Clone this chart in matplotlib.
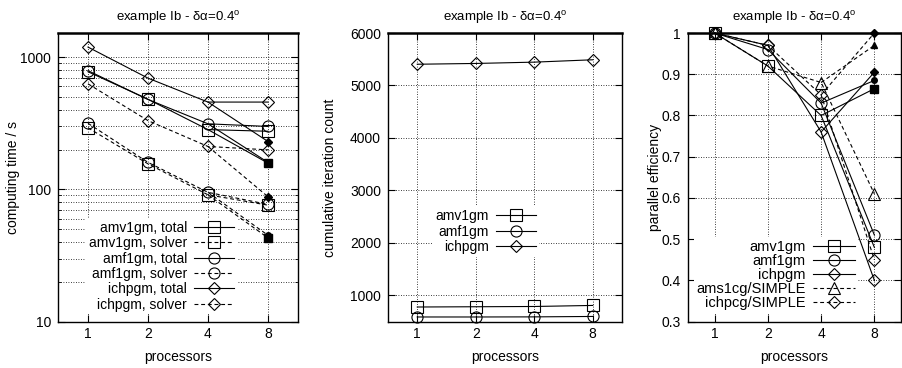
import numpy as np
import matplotlib.pyplot as plt
from matplotlib.ticker import LogLocator, NullFormatter, FixedLocator

plt.rcParams['font.family'] = ['Liberation Sans', 'DejaVu Sans']
plt.rcParams['font.size'] = 10
plt.rcParams['mathtext.fontset'] = 'custom'
plt.rcParams['mathtext.rm'] = 'Liberation Sans'

procs = [1, 2, 4, 8]
xpos = np.arange(len(procs))

# computing time / s  (*_b is the second run on 8 processors)
amv1gm_total = [775, 480, 283, 275]
amv1gm_total_b = 158
amv1gm_solver = [292, 156, 91, 76]
amv1gm_solver_b = 43
amf1gm_total = [790, 478, 313, 299]
amf1gm_total_b = 160
amf1gm_solver = [316, 160, 95, 77]
amf1gm_solver_b = 45
ichpgm_total = [1190, 693, 457, 457]
ichpgm_total_b = 230
ichpgm_solver = [628, 331, 211, 199]
ichpgm_solver_b = 88

# cumulative iteration count
amv1gm_iter = [780, 785, 790, 810]
amf1gm_iter = [590, 590, 592, 600]
ichpgm_iter = [5405, 5420, 5445, 5490]

# parallel efficiency
amv1gm_eff = [1.0, 0.92, 0.80, 0.48]
amv1gm_eff_b = 0.865
amf1gm_eff = [1.0, 0.96, 0.83, 0.51]
amf1gm_eff_b = 0.885
ichpgm_eff = [1.0, 0.97, 0.76, 0.40]
ichpgm_eff_b = 0.905
ams1cg_eff = [1.0, 0.92, 0.88, 0.61]
ams1cg_eff_b = 0.97
ichpcg_eff = [1.0, 0.97, 0.85, 0.45]
ichpcg_eff_b = 1.0

title = 'example Ib - δα=0.4$^{\\mathrm{o}}$'
DASH = (0, (3.5, 2.5))
LW = 0.8
MS = {'s': 8, 'o': 8, 'D': 6.5, '^': 8}


def series(ax, y, marker, ls, label, yb=None, fsize=4.0):
    line, = ax.plot(xpos, y, color='k', lw=LW, ls=ls, marker=marker,
                    ms=MS[marker], mfc='none', mec='k', mew=0.8, label=label,
                    zorder=3, clip_on=False)
    if yb is not None:
        ax.plot(xpos[2:], [y[2], yb], color='k', lw=LW, ls=ls, zorder=3)
        ax.plot(xpos[3], yb, color='k', marker=marker, ms=fsize, mfc='k',
                mec='k', ls='none', zorder=4, clip_on=False)
    return line


def style(ax):
    ax.set_xlim(-0.5, 3.5)
    ax.set_xticks(xpos)
    ax.set_xticklabels([str(p) for p in procs])
    ax.tick_params(which='both', direction='in', top=True, right=True)
    ax.tick_params(axis='y', which='major', length=5, pad=5)
    ax.tick_params(axis='x', which='major', length=5, pad=4)
    ax.tick_params(which='minor', length=2.5)
    ax.grid(True, which='major', color='k', ls=(0, (1, 2)), lw=0.6)
    for s in ax.spines.values():
        s.set_linewidth(1.0)
        s.set_zorder(5)
    ax.spines['top'].set_linewidth(1.8)
    ax.set_xlabel('processors', labelpad=6)
    ax.set_title(title, pad=9, fontsize=9.5)


def legend(ax, anchor, fs=10, spacing=0.1):
    leg = ax.legend(loc='lower right', bbox_to_anchor=anchor, markerfirst=False,
                    frameon=True, fancybox=False, framealpha=1, edgecolor='none',
                    facecolor='white', fontsize=fs, handlelength=2.9,
                    handletextpad=0.5, labelspacing=spacing, borderpad=0.2,
                    borderaxespad=0)
    leg.set_zorder(10)
    return leg


fig = plt.figure(figsize=(9.03, 3.68), dpi=100)
ax1 = fig.add_axes([0.0642, 0.1258, 0.2658, 0.7845])
ax2 = fig.add_axes([0.4297, 0.1258, 0.2591, 0.7845])
ax3 = fig.add_axes([0.7619, 0.1258, 0.2359, 0.7845])

# computing time
series(ax1, amv1gm_total, 's', '-', 'amv1gm, total', amv1gm_total_b, 6)
series(ax1, amv1gm_solver, 's', DASH, 'amv1gm, solver', amv1gm_solver_b, 6)
series(ax1, amf1gm_total, 'o', '-', 'amf1gm, total', amf1gm_total_b)
series(ax1, amf1gm_solver, 'o', DASH, 'amf1gm, solver', amf1gm_solver_b)
series(ax1, ichpgm_total, 'D', '-', 'ichpgm, total', ichpgm_total_b)
series(ax1, ichpgm_solver, 'D', DASH, 'ichpgm, solver', ichpgm_solver_b)
ax1.set_yscale('log')
ax1.set_ylim(10, 1520)
ax1.yaxis.set_major_locator(FixedLocator([10, 100, 1000]))
ax1.yaxis.set_major_formatter(plt.FuncFormatter(lambda v, p: '%d' % v))
ax1.yaxis.set_minor_locator(LogLocator(base=10, subs=np.arange(2, 10)))
ax1.yaxis.set_minor_formatter(NullFormatter())
style(ax1)
ax1.grid(True, which='minor', axis='y', color='k', ls=(0, (1, 2)), lw=0.6)
ax1.set_ylabel('computing time / s')
ax1.yaxis.set_label_coords(-0.16, 0.5)
legend(ax1, (0.746, 0.025))

# iteration count
series(ax2, amv1gm_iter, 's', '-', 'amv1gm')
series(ax2, amf1gm_iter, 'o', '-', 'amf1gm')
series(ax2, ichpgm_iter, 'D', '-', 'ichpgm')
ax2.set_ylim(500, 6000)
ax2.set_yticks([1000, 2000, 3000, 4000, 5000, 6000])
style(ax2)
ax2.set_ylabel('cumulative iteration count')
ax2.yaxis.set_label_coords(-0.22, 0.5)
legend(ax2, (0.645, 0.225))

# parallel efficiency
series(ax3, amv1gm_eff, 's', '-', 'amv1gm', amv1gm_eff_b, 6)
series(ax3, amf1gm_eff, 'o', '-', 'amf1gm', amf1gm_eff_b)
series(ax3, ichpgm_eff, 'D', '-', 'ichpgm', ichpgm_eff_b)
series(ax3, ams1cg_eff, '^', DASH, 'ams1cg/SIMPLE', ams1cg_eff_b, 5)
series(ax3, ichpcg_eff, 'D', DASH, 'ichpcg/SIMPLE', ichpcg_eff_b)
ax3.set_ylim(0.3, 1.0)
ax3.set_yticks([0.3, 0.4, 0.5, 0.6, 0.7, 0.8, 0.9, 1.0])
ax3.set_yticklabels(['0.3', '0.4', '0.5', '0.6', '0.7', '0.8', '0.9', '1'])
style(ax3)
ax3.set_ylabel('parallel efficiency')
ax3.yaxis.set_label_coords(-0.12, 0.5)
legend(ax3, (0.80, 0.03), fs=10.5, spacing=0.0)

fig.savefig('out.png', dpi=100)
